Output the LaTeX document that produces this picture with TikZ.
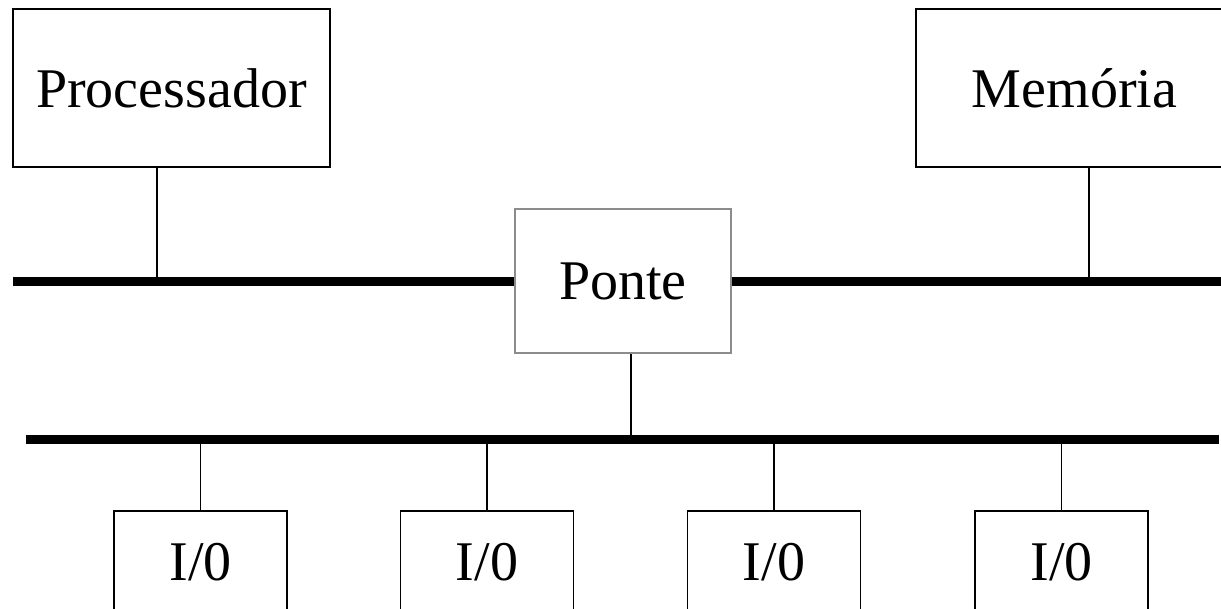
\documentclass[tikz,border=0pt]{standalone}
\usepackage{fontspec}
\setmainfont{Liberation Serif}

\tikzset{every picture/.style={line width=1pt}}
\tikzset{
  unit/.style={draw, inner sep=0pt, font=\fontsize{42}{50}\selectfont},
  iobox/.style={unit, minimum width=129.75pt, minimum height=77.25pt},
  bus/.style={line width=6.75pt},
}

\begin{document}
\begin{tikzpicture}[x=0.75pt,y=0.75pt,yscale=-1,xscale=1]
\useasboundingbox (0,0) rectangle (1221,609);
\clip (0,0) rectangle (1221,609);

% Text Node
\node [unit, minimum width=237.75pt, minimum height=118.5pt] (proc) at (171.5,88) {Processador};
% Text Node
\node [unit, minimum width=237.75pt, minimum height=118.5pt] (mem) at (1074.5,88) {Memória};
% Text Node
\node [unit, draw=black!45, minimum width=162pt, minimum height=108pt] (ponte) at (623,281) {Ponte};
% Text Node
\node [iobox] (io1) at (200.5,562.5) {I/0};
\node [iobox] (io2) at (487,562.5) {I/0};
\node [iobox] (io3) at (774,562.5) {I/0};
\node [iobox] (io4) at (1061.5,562.5) {I/0};

%Bus ends and taps
\coordinate (sysL) at (13,281.5);
\coordinate (sysR) at (1221,281.5);
\coordinate (ioL) at (26,439.5);
\coordinate (ioR) at (1219,439.5);
\coordinate (tapProc) at (157,281.5);
\coordinate (tapMem) at (1089,281.5);
\coordinate (tapPonte) at (631,439.5);

%Straight Lines (system bus)
\draw [bus] (sysL) -- (sysL -| ponte.west);
\draw [bus] (sysR -| ponte.east) -- (sysR);
%Straight Lines (I/O bus)
\draw [bus] (ioL) -- (ioR);

%Straight Lines
\draw (tapProc) -- (tapProc |- proc.south);
\draw (tapMem) -- (tapMem |- mem.south);
\draw (tapPonte) -- (tapPonte |- ponte.south);
\foreach \k in {1,...,4}
  \draw (io\k.north) -- (io\k.north |- ioL);

\end{tikzpicture}
\end{document}
